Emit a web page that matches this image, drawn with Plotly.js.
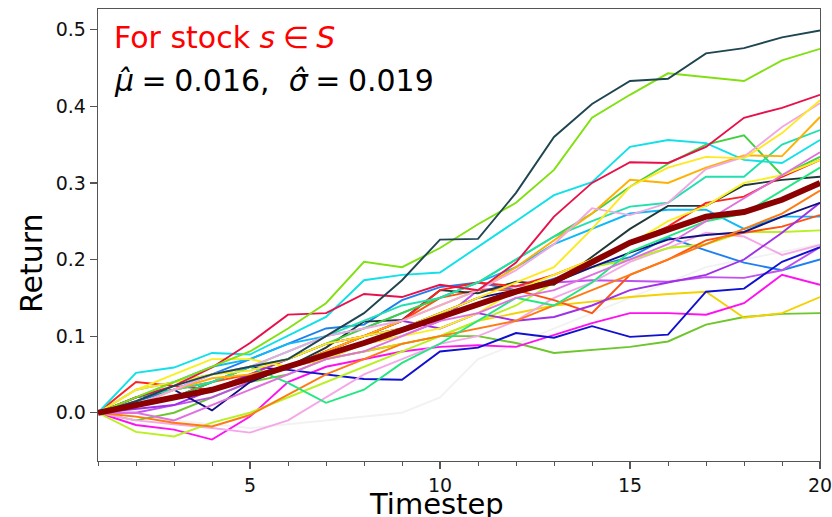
<!DOCTYPE html>
<html>
<head>
<meta charset="utf-8">
<script src="https://cdn.plot.ly/plotly-3.0.1.min.js"></script>
<style>html,body{margin:0;padding:0;background:#fff;}#chart{width:832px;height:517px;}</style>
</head>
<body>
<div id="chart"></div>
<script>
// ---- data ----
const timesteps = [1,2,3,4,5,6,7,8,9,10,11,12,13,14,15,16,17,18,19,20];
const yTickValues = [0.0, 0.1, 0.2, 0.3, 0.4, 0.5];
const xTickValues = [5, 10, 15, 20];

const pathDarkSlate   = [0,0.015,0.035,0.05,0.06,0.07,0.10,0.13,0.173,0.226,0.227,0.287,0.36,0.403,0.433,0.436,0.469,0.476,0.49,0.499];
const pathLawnGreen   = [0,0.02,0.04,0.06,0.08,0.11,0.143,0.197,0.19,0.215,0.246,0.274,0.317,0.385,0.415,0.443,0.438,0.433,0.46,0.475];
const pathCrimson     = [0,0.02,0.035,0.059,0.091,0.128,0.13,0.155,0.151,0.167,0.16,0.196,0.256,0.30,0.327,0.326,0.347,0.385,0.398,0.415];
const pathYellow      = [0,0.03,0.04,0.05,0.055,0.07,0.09,0.10,0.11,0.13,0.15,0.17,0.19,0.24,0.295,0.32,0.334,0.332,0.365,0.408];
const pathPlum        = [0,0.01,0.03,0.05,0.06,0.08,0.10,0.11,0.12,0.14,0.16,0.186,0.22,0.267,0.258,0.274,0.318,0.334,0.373,0.404];
const pathOrange      = [0,0.01,0.03,0.045,0.05,0.06,0.08,0.10,0.12,0.14,0.16,0.19,0.225,0.26,0.304,0.30,0.32,0.336,0.335,0.386];
const pathTurquoise   = [0,0.02,0.03,0.04,0.06,0.08,0.10,0.12,0.14,0.15,0.17,0.20,0.23,0.25,0.269,0.274,0.308,0.308,0.35,0.369];
const pathCyan        = [0,0.052,0.059,0.078,0.076,0.10,0.125,0.173,0.18,0.183,0.216,0.25,0.284,0.301,0.347,0.356,0.352,0.33,0.326,0.356];
const pathLimeGreen   = [0,0.01,0.02,0.04,0.06,0.07,0.09,0.11,0.13,0.15,0.17,0.20,0.23,0.26,0.295,0.325,0.35,0.362,0.31,0.334];
const pathRed         = [0,0.04,0.035,0.03,0.045,0.06,0.08,0.10,0.12,0.16,0.17,0.165,0.18,0.20,0.222,0.243,0.274,0.282,0.308,0.33];
const pathSpringGreen = [0,0.02,0.04,0.05,0.06,0.039,0.013,0.03,0.065,0.09,0.12,0.15,0.14,0.17,0.21,0.23,0.25,0.26,0.29,0.32];
const pathDarkSlate2  = [0,0.01,0.02,0.03,0.045,0.06,0.085,0.119,0.121,0.16,0.156,0.171,0.167,0.203,0.24,0.27,0.27,0.297,0.304,0.308];
const pathDarkOrange  = [0,-0.005,-0.013,-0.018,-0.003,0.023,0.05,0.07,0.09,0.10,0.11,0.12,0.14,0.16,0.18,0.20,0.22,0.24,0.26,0.29];
const pathNavy        = [0,0.02,0.03,0.003,0.04,0.06,0.08,0.10,0.11,0.13,0.15,0.16,0.17,0.19,0.209,0.226,0.232,0.236,0.256,0.274];
const pathDarkViolet  = [0,0.005,0.01,0.03,0.05,0.07,0.09,0.10,0.12,0.11,0.13,0.12,0.125,0.14,0.16,0.17,0.18,0.20,0.235,0.274];
const pathOrangeRed   = [0,0.02,0.03,0.04,0.05,0.07,0.09,0.10,0.12,0.15,0.16,0.16,0.147,0.13,0.18,0.20,0.225,0.235,0.243,0.258];
const pathDeepSky     = [0,0.03,0.04,0.06,0.07,0.09,0.10,0.11,0.13,0.15,0.17,0.19,0.22,0.24,0.26,0.265,0.265,0.24,0.256,0.256];
const pathGreenYellow = [0,-0.025,-0.031,-0.013,0.0,0.02,0.04,0.06,0.08,0.10,0.12,0.14,0.17,0.19,0.20,0.215,0.22,0.236,0.236,0.238];
const pathLightPink   = [0,-0.01,-0.015,-0.02,-0.026,-0.01,0.02,0.05,0.07,0.09,0.10,0.12,0.15,0.17,0.197,0.215,0.235,0.23,0.206,0.219];
const pathMediumBlue  = [0,0.01,0.02,0.04,0.06,0.056,0.05,0.044,0.043,0.08,0.085,0.104,0.098,0.113,0.099,0.102,0.158,0.162,0.197,0.216];
const pathOrchid      = [0,0.0,0.01,0.02,0.04,0.06,0.07,0.09,0.10,0.12,0.16,0.165,0.17,0.173,0.172,0.171,0.177,0.176,0.186,0.216];
const pathDodgerBlue  = [0,0.015,0.03,0.05,0.07,0.09,0.11,0.115,0.147,0.164,0.17,0.16,0.175,0.19,0.203,0.229,0.212,0.196,0.186,0.20];
const pathMagenta     = [0,-0.016,-0.022,-0.035,-0.005,0.04,0.06,0.07,0.08,0.086,0.088,0.086,0.102,0.117,0.13,0.13,0.128,0.143,0.18,0.167];
const pathGold        = [0,0.01,0.02,0.03,0.05,0.06,0.07,0.08,0.09,0.10,0.12,0.13,0.14,0.145,0.151,0.155,0.158,0.124,0.13,0.151];
const pathGreen       = [0,-0.01,0.0,0.02,0.04,0.05,0.07,0.08,0.09,0.10,0.10,0.091,0.078,0.082,0.086,0.093,0.115,0.125,0.129,0.13];
const pathWhiteSmoke  = [0,-0.005,-0.01,-0.015,-0.02,-0.015,-0.01,-0.005,0.0,0.02,0.07,0.09,0.11,0.13,0.15,0.17,0.19,0.20,0.21,0.22];
const pathYellow2     = [0,0.03,0.05,0.07,0.07,0.06,0.07,0.09,0.10,0.11,0.13,0.16,0.18,0.20,0.22,0.25,0.27,0.30,0.31,0.33];
const pathViolet      = [0,0.0,-0.01,0.01,0.03,0.05,0.07,0.08,0.10,0.12,0.13,0.15,0.16,0.18,0.20,0.22,0.25,0.28,0.31,0.34];
const meanPath        = [0,0.01,0.02,0.03,0.045,0.06,0.075,0.091,0.108,0.124,0.141,0.158,0.171,0.196,0.222,0.239,0.256,0.262,0.278,0.30];

const annotationLine1 = 'For stock <i>s</i>\u2005\u2208\u2005<i>S</i>';
const annotationLine2 = '<i>\u03bc\u0302</i>\u2005=\u20050.016,\u00a0 <i>\u03c3\u0302</i>\u2005=\u20050.019';
const xTitle = 'Timestep';
const yTitle = 'Return';

// ---- styles ----
const seriesList = [
  [pathWhiteSmoke,  '#f2f2f2'],
  [pathGreen,       '#6cc62c'],
  [pathGold,        '#f2d200'],
  [pathMagenta,     '#ff10f0'],
  [pathDodgerBlue,  '#1e80f0'],
  [pathOrchid,      '#c050f0'],
  [pathMediumBlue,  '#1010d0'],
  [pathLightPink,   '#f4a8e8'],
  [pathGreenYellow, '#b8f020'],
  [pathDeepSky,     '#10b8f8'],
  [pathOrangeRed,   '#ff5010'],
  [pathDarkViolet,  '#a030e8'],
  [pathNavy,        '#101080'],
  [pathDarkOrange,  '#ff7a10'],
  [pathDarkSlate2,  '#203838'],
  [pathSpringGreen, '#20e880'],
  [pathRed,         '#ff2020'],
  [pathLimeGreen,   '#40d040'],
  [pathYellow2,     '#f8f020'],
  [pathViolet,      '#e070e0'],
  [pathCyan,        '#10e0e8'],
  [pathTurquoise,   '#20e0b0'],
  [pathOrange,      '#ffb000'],
  [pathPlum,        '#f0a8e0'],
  [pathYellow,      '#ffe820'],
  [pathCrimson,     '#e8104a'],
  [pathLawnGreen,   '#80e010'],
  [pathDarkSlate,   '#1e4550']
];

const traces = seriesList.map(([vals, col]) => ({
  x: timesteps, y: vals, type: 'scatter', mode: 'lines',
  line: {color: col, width: 1.9}, hoverinfo: 'skip'
}));
traces.push({
  x: timesteps, y: meanPath, type: 'scatter', mode: 'lines',
  line: {color: '#8b0000', width: 6}, hoverinfo: 'skip'
});

const axisCommon = {
  showgrid: false, zeroline: false, showline: true, mirror: true,
  linecolor: '#555555', linewidth: 1.3, ticks: 'outside', tickcolor: '#555555',
  tickwidth: 1.2, ticklen: 7, ticklabeloverflow: 'allow',
  tickfont: {family: 'DejaVu Sans', size: 19, color: '#111'}
};

const layout = {
  width: 832, height: 517,
  margin: {l: 98, r: 12, t: 9, b: 56, pad: 0},
  paper_bgcolor: '#fff', plot_bgcolor: '#fff',
  showlegend: false,
  font: {family: 'DejaVu Sans', color: '#111'},
  xaxis: Object.assign({}, axisCommon, {
    range: [1, 20], tickvals: xTickValues, ticktext: xTickValues.map(String),
    minor: {dtick: 1, tick0: 1, ticks: 'outside', ticklen: 3.5, tickcolor: '#555555', tickwidth: 1}
  }),
  yaxis: Object.assign({}, axisCommon, {
    range: [-0.063, 0.527], tickvals: yTickValues, ticktext: yTickValues.map(v => v.toFixed(1))
  }),
  annotations: [
    {text: annotationLine1, xref: 'paper', yref: 'paper', x: 0.019, y: 0.936,
     xanchor: 'left', yanchor: 'middle', showarrow: false,
     font: {family: 'DejaVu Sans', size: 30, color: '#ff0000'}},
    {text: annotationLine2, xref: 'paper', yref: 'paper', x: 0.019, y: 0.842,
     xanchor: 'left', yanchor: 'middle', showarrow: false,
     font: {family: 'DejaVu Sans', size: 30, color: '#000000'}},
    {text: xTitle, xref: 'paper', yref: 'paper', x: 0.4695, y: -0.095,
     xanchor: 'center', yanchor: 'middle', showarrow: false,
     font: {family: 'DejaVu Sans', size: 29, color: '#000000'}},
    {text: yTitle, xref: 'paper', yref: 'paper', x: -0.0928, y: 0.438, textangle: -90,
     xanchor: 'center', yanchor: 'middle', showarrow: false,
     font: {family: 'DejaVu Sans', size: 30, color: '#000000'}}
  ]
};

Plotly.newPlot('chart', traces, layout, {displayModeBar: false, staticPlot: true});
</script>
</body>
</html>
